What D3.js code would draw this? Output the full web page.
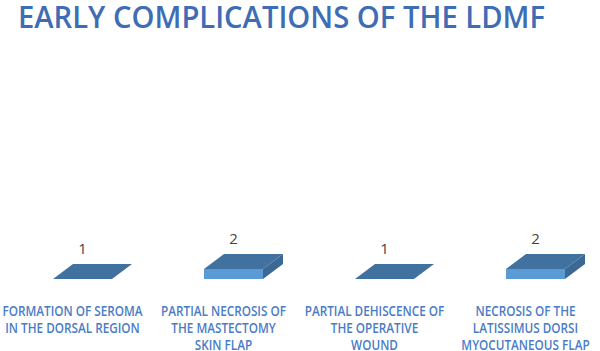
<!DOCTYPE html>
<html>
<head>
<meta charset="utf-8">
<script src="https://cdn.jsdelivr.net/npm/d3@7"></script>
<style>
  html, body { margin: 0; padding: 0; background: #fff; }
  svg { display: block; }
</style>
</head>
<body>
<div id="chart"></div>
<script>
// data
const categories = [
  ['FORMATION OF SEROMA', 'IN THE DORSAL REGION'],
  ['PARTIAL NECROSIS OF', 'THE MASTECTOMY', 'SKIN FLAP'],
  ['PARTIAL DEHISCENCE OF', 'THE OPERATIVE', 'WOUND'],
  ['NECROSIS OF THE', 'LATISSIMUS DORSI', 'MYOCUTANEOUS FLAP']
]
const values = [1, 2, 1, 2]
const yDomain = [1, 30]

const width = 600
const height = 351
const floorY = 279
const depth = { dx: 20, dy: 15 }
const barW = 59
const font = '"Open Sans", "Noto Sans", sans-serif'
const squeeze = 0.84 // Calibri-like narrow letters

const colors = { title: '#3e6db5', label: '#4a7cc6', value: '#444', top: '#41719e', front: '#5b9bd5', side: '#3b6895' }

const svg = d3.select('#chart').append('svg')
  .attr('width', width).attr('height', height)

svg.append('text').attr('x', 18).attr('y', 28)
  .attr('textLength', 527).attr('lengthAdjust', 'spacingAndGlyphs')
  .attr('fill', colors.title)
  .style('font-family', font).style('font-size', '30px').style('font-weight', 600)
  .text('EARLY COMPLICATIONS OF THE LDMF')

const keys = categories.map((c, i) => i)
const x = d3.scaleBand().domain(keys).range([-3, 601])
const y = d3.scaleLinear().domain(yDomain).range([floorY, floorY - 290])

const g = svg.append('g')

values.forEach((v, i) => {
  const cx = x(i) + x.bandwidth() / 2 + 10
  const x0 = cx - barW / 2, x1 = cx + barW / 2
  const yt = y(v)
  const { dx, dy } = depth

  // front + side faces only when the bar has height
  if (floorY - yt > 0.5) {
    g.append('rect').attr('x', x0).attr('y', yt).attr('width', barW).attr('height', floorY - yt)
      .attr('fill', colors.front)
    g.append('path')
      .attr('d', `M${x1},${yt}L${x1 + dx},${yt - dy}L${x1 + dx},${floorY - dy}L${x1},${floorY}Z`)
      .attr('fill', colors.side)
  }
  // top face
  g.append('path')
    .attr('d', `M${x0},${yt}L${x1},${yt}L${x1 + dx},${yt - dy}L${x0 + dx},${yt - dy}Z`)
    .attr('fill', colors.top)

  g.append('text').attr('x', cx).attr('y', yt - dy - 10)
    .attr('text-anchor', 'middle').attr('fill', colors.value)
    .style('font-family', font).style('font-size', '15px')
    .text(v)
})

// category labels, squeezed horizontally
categories.forEach((lines, i) => {
  const cx = x(i) + x.bandwidth() / 2
  const t = svg.append('g').attr('transform', `translate(${cx},0) scale(${squeeze},1)`)
    .append('text')
    .attr('text-anchor', 'middle').attr('fill', colors.label)
    .style('font-family', font).style('font-size', '14px').style('font-weight', 600)
  lines.forEach((ln, j) => {
    t.append('tspan').attr('x', 0).attr('y', 316 + j * 17).text(ln)
  })
})
</script>
</body>
</html>
